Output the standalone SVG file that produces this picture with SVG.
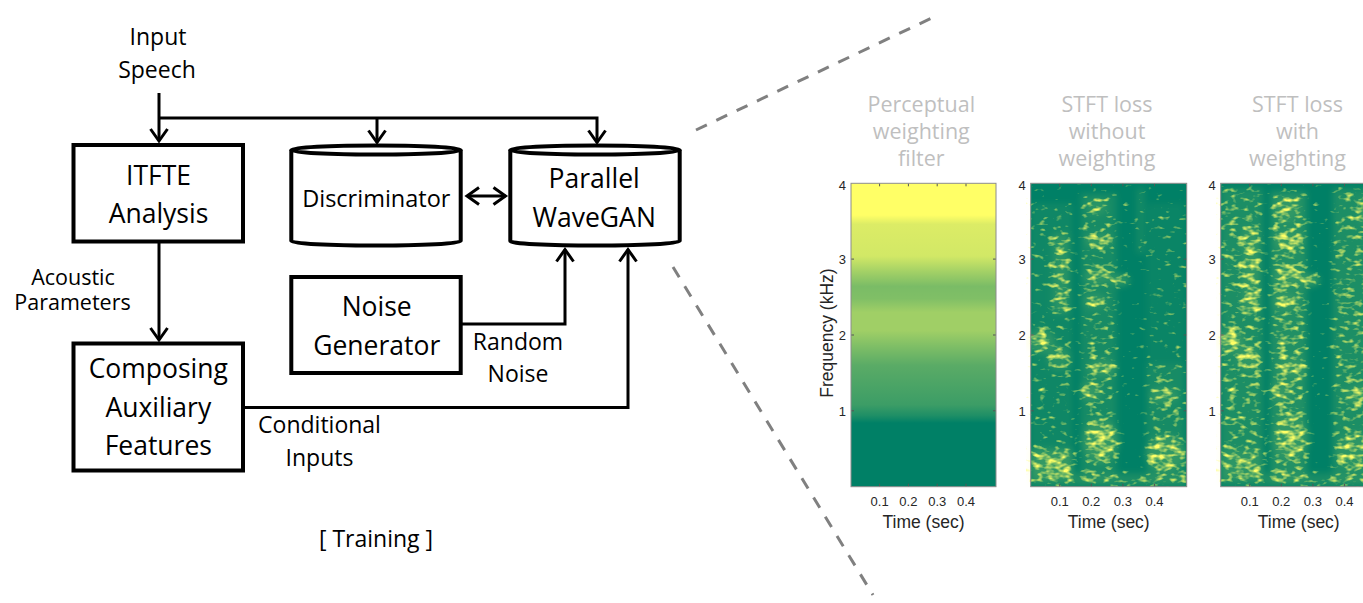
<svg xmlns="http://www.w3.org/2000/svg" width="1363" height="603" viewBox="0 0 1363 603">
<style>
.box{fill:#fff;stroke:#000;stroke-width:4}
.t{font-family:'Open Sans','Noto Sans',sans-serif;fill:#000;text-anchor:middle}
.bt{font-size:26.5px}
.lb{font-size:23px}
.cn{fill:none;stroke:#000;stroke-width:3}
.ax{font-family:'Liberation Sans',Arial,sans-serif;fill:#262626}
.tky{font-size:13px;text-anchor:end}
.tkx{font-size:13px;text-anchor:middle}
.al{font-size:17.5px;text-anchor:middle}
.ttl{font-family:'Open Sans','Noto Sans',sans-serif;font-size:21.5px;fill:#bfbfbf;text-anchor:middle}
.dash{stroke:#808080;stroke-width:3;stroke-dasharray:12 10.5;fill:none}
.frame{fill:none;stroke:#8c8c8c;stroke-width:1}
.tick{stroke:#555;stroke-width:1;fill:none}
.m{fill:#fff}
</style>
<defs>
<marker id="arr" markerUnits="userSpaceOnUse" markerWidth="20" markerHeight="24" viewBox="-16 -12 20 24" refX="0" refY="0" orient="auto-start-reverse" overflow="visible">
<path d="M-12,-8.5 L0,0 L-12,8.5" fill="none" stroke="#000" stroke-width="3"/>
</marker>
<linearGradient id="pw" x1="0" y1="0" x2="0" y2="1">
<stop offset="0" stop-color="#ffff66"/>
<stop offset="0.105" stop-color="#ffff66"/>
<stop offset="0.135" stop-color="#dcec66"/>
<stop offset="0.24" stop-color="#d2e866"/>
<stop offset="0.29" stop-color="#a4d166"/>
<stop offset="0.34" stop-color="#7abc66"/>
<stop offset="0.38" stop-color="#80bf66"/>
<stop offset="0.425" stop-color="#a0cf66"/>
<stop offset="0.485" stop-color="#a0cf66"/>
<stop offset="0.535" stop-color="#80bf66"/>
<stop offset="0.60" stop-color="#5aab66"/>
<stop offset="0.73" stop-color="#3c9d66"/>
<stop offset="0.765" stop-color="#1f8f66"/>
<stop offset="0.79" stop-color="#008066"/>
<stop offset="1" stop-color="#008066"/>
</linearGradient>
<filter id="spec" x="0" y="0" width="1" height="1" color-interpolation-filters="sRGB">
<feGaussianBlur in="SourceAlpha" stdDeviation="3" result="m"/>
<feTurbulence type="fractalNoise" baseFrequency="0.12 0.21" numOctaves="2" seed="11" result="n"/>
<feColorMatrix in="n" type="matrix" values="0 0 0 0 0  0 0 0 0 0  0 0 0 0 0  1 0 0 0 0" result="na"/>
<feComposite in="na" in2="m" operator="arithmetic" k1="0" k2="1" k3="0.32" k4="-0.7" result="s"/>
<feColorMatrix in="s" type="matrix" values="0 0 0 0 1  0 0 0 0 1  0 0 0 0 0.4  0 0 0 2.8 0" result="sp"/>
<feColorMatrix in="m" type="matrix" values="0 0 0 0 1  0 0 0 0 1  0 0 0 0 0.4  0 0 0 0.2 0" result="hz"/>
<feMerge><feMergeNode in="hz"/><feMergeNode in="sp"/></feMerge>
</filter>
<g id="axdeco">
<path class="tick" d="M29,0v3M60.6,0v3M92.2,0v3M123.8,0v3M29,303.4v-3M60.6,303.4v-3M92.2,303.4v-3M123.8,303.4v-3M0,75.8h3M0,151.7h3M0,227.5h3M156,75.8h-3M156,151.7h-3M156,227.5h-3"/>
<rect class="frame" x="0" y="0" width="156" height="303.4"/>
<g class="ax">
<text class="tky" x="-5" y="6.7">4</text>
<text class="tky" x="-5" y="80.8">3</text>
<text class="tky" x="-5" y="156.7">2</text>
<text class="tky" x="-5" y="232.5">1</text>
<text class="tkx" x="29" y="323">0.1</text>
<text class="tkx" x="60.6" y="323">0.2</text>
<text class="tkx" x="92.2" y="323">0.3</text>
<text class="tkx" x="123.8" y="323">0.4</text>
<text class="al" x="78" y="345">Time (sec)</text>
</g>
</g>
</defs>

<rect width="1363" height="603" fill="#fff"/>

<g id="zoomlines">
<path class="dash" d="M696,130 L938,15"/>
<path class="dash" d="M673,267 L873,595"/>
</g>

<g id="labels" class="t lb">
<text x="158" y="45">Input</text>
<text x="157" y="78">Speech</text>
<text x="73" y="285" font-size="21.5">Acoustic</text>
<text x="72.5" y="310" font-size="21.5">Parameters</text>
<text x="518" y="350">Random</text>
<text x="518" y="382">Noise</text>
<text x="319.5" y="433">Conditional</text>
<text x="319.5" y="466">Inputs</text>
<text x="376" y="547">[ Training ]</text>
</g>

<g id="connectors">
<path class="cn" d="M159,93 V141" marker-end="url(#arr)"/>
<path class="cn" d="M159,118 H597 V142.5" marker-end="url(#arr)"/>
<path class="cn" d="M377,118 V142.5" marker-end="url(#arr)"/>
<path class="cn" d="M159,243 V340" marker-end="url(#arr)"/>
<path class="cn" d="M467,196 H505.5" marker-start="url(#arr)" marker-end="url(#arr)"/>
<path class="cn" d="M462,324 H565 V249.5" marker-end="url(#arr)"/>
<path class="cn" d="M244,407.5 H628 V249.5" marker-end="url(#arr)"/>
</g>

<g id="itfte">
<rect class="box" x="73.5" y="145" width="169.5" height="96.5"/>
<text class="t bt" x="158.5" y="185">ITFTE</text>
<text class="t bt" x="158.5" y="223">Analysis</text>
</g>

<g id="composing">
<rect class="box" x="73.5" y="343.5" width="169.5" height="127"/>
<text class="t bt" x="158.3" y="378">Composing</text>
<text class="t bt" x="158.3" y="417">Auxiliary</text>
<text class="t bt" x="158.3" y="455">Features</text>
</g>

<g id="discriminator">
<path class="box" d="M291.3,150 V241 A84.7,4.5 0 0 0 460.7,241 V150"/>
<ellipse class="box" cx="376" cy="150" rx="84.7" ry="4.5"/>
<text class="t" x="376.3" y="206.7" font-size="23.5">Discriminator</text>
</g>

<g id="pwg">
<path class="box" d="M510.3,150 V241 A84.7,4.5 0 0 0 679.7,241 V150"/>
<ellipse class="box" cx="595" cy="150" rx="84.7" ry="4.5"/>
<text class="t bt" x="594.2" y="188.3">Parallel</text>
<text class="t bt" x="594.2" y="226.7">WaveGAN</text>
</g>

<g id="noise">
<rect class="box" x="291.3" y="277" width="169.4" height="96"/>
<text class="t bt" x="376.7" y="316">Noise</text>
<text class="t bt" x="376.7" y="355">Generator</text>
</g>

<g id="plot1">
<text class="ttl" x="921.3" y="112">Perceptual</text>
<text class="ttl" x="921.3" y="139">weighting</text>
<text class="ttl" x="921.3" y="166">filter</text>
<rect x="851" y="183.3" width="145" height="303.4" fill="url(#pw)"/>
<path class="tick" d="M879.6,183.3v3M908.4,183.3v3M937.2,183.3v3M966,183.3v3M879.6,486.7v-3M908.4,486.7v-3M937.2,486.7v-3M966,486.7v-3M851,259.1h3M851,335h3M851,410.8h3M996,259.1h-3M996,335h-3M996,410.8h-3"/>
<rect class="frame" x="851" y="183.3" width="145" height="303.4"/>
<g class="ax">
<text class="tky" x="846" y="190">4</text>
<text class="tky" x="846" y="264.1">3</text>
<text class="tky" x="846" y="340">2</text>
<text class="tky" x="846" y="415.8">1</text>
<text class="tkx" x="879.6" y="506.3">0.1</text>
<text class="tkx" x="908.4" y="506.3">0.2</text>
<text class="tkx" x="937.2" y="506.3">0.3</text>
<text class="tkx" x="966" y="506.3">0.4</text>
<text class="al" x="923.5" y="528.3">Time (sec)</text>
<text class="al" transform="translate(833,333) rotate(-90)">Frequency (kHz)</text>
</g>
</g>

<g id="plot2">
<text class="ttl" x="1107" y="112">STFT loss</text>
<text class="ttl" x="1107" y="139">without</text>
<text class="ttl" x="1107" y="166">weighting</text>
<g transform="translate(1030.7,183.3)">
<rect x="0" y="0" width="156" height="303.4" fill="#008066"/>
<g filter="url(#spec)">
<rect x="0" y="0" width="156" height="303.4" fill="none"/>
<rect class="m" x="0" y="20" width="42" height="250" fill-opacity="0.3"/>
<rect class="m" x="22" y="50" width="16" height="80" fill-opacity="0.7"/>
<ellipse class="m" cx="10" cy="158" rx="14" ry="12" fill-opacity="0.8"/>
<ellipse class="m" cx="28" cy="175" rx="12" ry="12" fill-opacity="0.65"/>
<rect class="m" x="0" y="266" width="42" height="30" fill-opacity="1"/>
<rect class="m" x="50" y="10" width="36" height="290" fill-opacity="0.45"/>
<ellipse class="m" cx="66" cy="24" rx="10" ry="8" fill-opacity="0.7"/>
<ellipse class="m" cx="68" cy="57" rx="14" ry="7" fill-opacity="0.85"/>
<ellipse class="m" cx="68" cy="93" rx="14" ry="8" fill-opacity="0.85"/>
<ellipse class="m" cx="64" cy="118" rx="12" ry="8" fill-opacity="0.7"/>
<ellipse class="m" cx="72" cy="185" rx="14" ry="9" fill-opacity="0.9"/>
<ellipse class="m" cx="60" cy="208" rx="10" ry="10" fill-opacity="0.95"/>
<ellipse class="m" cx="70" cy="258" rx="18" ry="22" fill-opacity="1"/>
<ellipse class="m" cx="90" cy="97" rx="9" ry="6" fill-opacity="0.85"/>
<rect class="m" x="116" y="180" width="38" height="120" fill-opacity="0.45"/>
<ellipse class="m" cx="133" cy="212" rx="14" ry="8" fill-opacity="0.85"/>
<ellipse class="m" cx="135" cy="270" rx="20" ry="18" fill-opacity="0.95"/>
<rect class="m" x="106" y="5" width="8" height="65" fill-opacity="0.4"/>
<rect class="m" x="116" y="20" width="38" height="160" fill-opacity="0.2"/>
<rect class="m" x="0" y="290" width="156" height="13" fill-opacity="0.55"/>
</g>
<use href="#axdeco"/>
</g>
</g>

<g id="plot3">
<text class="ttl" x="1297.5" y="112">STFT loss</text>
<text class="ttl" x="1297.5" y="139">with</text>
<text class="ttl" x="1297.5" y="166">weighting</text>
<g transform="translate(1220.7,183.3)">
<rect x="0" y="0" width="156" height="303.4" fill="#008066"/>
<g filter="url(#spec)">
<rect x="0" y="0" width="156" height="303.4" fill="none"/>
<rect class="m" x="0" y="5" width="42" height="290" fill-opacity="0.55"/>
<rect class="m" x="22" y="45" width="16" height="85" fill-opacity="0.9"/>
<ellipse class="m" cx="10" cy="158" rx="14" ry="12" fill-opacity="0.95"/>
<ellipse class="m" cx="28" cy="175" rx="12" ry="12" fill-opacity="0.85"/>
<rect class="m" x="0" y="266" width="42" height="30" fill-opacity="0.7"/>
<rect class="m" x="50" y="8" width="36" height="292" fill-opacity="0.65"/>
<ellipse class="m" cx="66" cy="26" rx="12" ry="12" fill-opacity="0.9"/>
<ellipse class="m" cx="68" cy="57" rx="15" ry="9" fill-opacity="1"/>
<ellipse class="m" cx="68" cy="93" rx="15" ry="10" fill-opacity="1"/>
<ellipse class="m" cx="64" cy="118" rx="13" ry="9" fill-opacity="0.9"/>
<ellipse class="m" cx="72" cy="185" rx="14" ry="10" fill-opacity="1"/>
<ellipse class="m" cx="60" cy="208" rx="10" ry="10" fill-opacity="1"/>
<ellipse class="m" cx="70" cy="255" rx="18" ry="22" fill-opacity="0.9"/>
<ellipse class="m" cx="90" cy="97" rx="9" ry="6" fill-opacity="1"/>
<rect class="m" x="112" y="5" width="44" height="295" fill-opacity="0.55"/>
<ellipse class="m" cx="148" cy="28" rx="10" ry="16" fill-opacity="0.9"/>
<ellipse class="m" cx="140" cy="212" rx="16" ry="9" fill-opacity="0.95"/>
<ellipse class="m" cx="135" cy="268" rx="20" ry="18" fill-opacity="0.75"/>
<rect class="m" x="0" y="290" width="156" height="13" fill-opacity="0.5"/>
</g>
<use href="#axdeco"/>
</g>
</g>
</svg>
